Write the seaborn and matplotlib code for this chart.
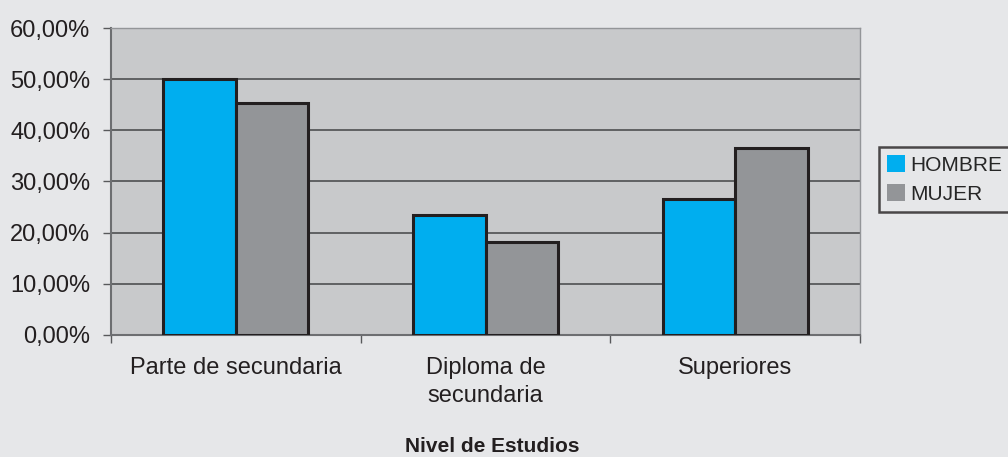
import matplotlib
matplotlib.use("Agg")
import matplotlib.pyplot as plt
import seaborn as sns
import pandas as pd
from matplotlib.ticker import FuncFormatter, MultipleLocator
from matplotlib.patches import Patch

categories = ["Parte de secundaria", "Diploma de\nsecundaria", "Superiores"]
hombre = [50.0, 23.5, 26.5]
mujer = [45.3, 18.2, 36.5]
series = ["HOMBRE", "MUJER"]
colors = ["#00AEEF", "#939598"]

df = pd.DataFrame({
    "Nivel": categories * 2,
    "Sexo": [series[0]] * 3 + [series[1]] * 3,
    "Valor": hombre + mujer,
})

sns.set_theme(style="white")
plt.rcParams["font.family"] = ["Liberation Sans", "DejaVu Sans"]

fig = plt.figure(figsize=(10.08, 4.57), dpi=100, facecolor="#E6E7E9")
ax = fig.add_axes([0.1101, 0.267, 0.7431, 0.6717])
ax.set_facecolor("#C8C9CB")

sns.barplot(data=df, x="Nivel", y="Valor", hue="Sexo", palette=colors, saturation=1,
            width=0.58, gap=0, edgecolor="#231F20", linewidth=2.2,
            ax=ax, legend=False, zorder=3)

ax.set_ylim(0, 60)
ax.set_xlim(-0.5, 2.5)
ax.yaxis.set_major_locator(MultipleLocator(10))
ax.yaxis.set_major_formatter(FuncFormatter(lambda v, p: f"{v:.2f}".replace(".", ",") + "%"))
ax.grid(axis="y", color="#58595B", linewidth=1.3, zorder=1)
ax.set_axisbelow(True)

# category boundary ticks on the x axis
ax.set_xticks([-0.5, 0.5, 1.5, 2.5], minor=True)
ax.tick_params(axis="x", which="minor", length=6, width=1, color="#58595B", direction="out", bottom=True)
ax.tick_params(axis="x", which="major", length=0, labelsize=17, labelcolor="#231F20", pad=16)
ax.tick_params(axis="y", length=6, width=1, color="#58595B", direction="out", left=True,
               labelsize=17, labelcolor="#231F20", pad=9)
for lbl in ax.get_xticklabels():
    lbl.set_linespacing(1.35)

for side in ["left", "bottom"]:
    ax.spines[side].set_color("#6D6E71")
    ax.spines[side].set_linewidth(1.5)
for side in ["top", "right"]:
    ax.spines[side].set_color("#939598")
    ax.spines[side].set_linewidth(1.0)

ax.set_ylabel("")
ax.set_xlabel("")
fig.text(0.4885, 1 - 446 / 457, "Nivel de Estudios", fontsize=15, fontweight="bold",
         color="#231F20", ha="center", va="center")

handles = [Patch(facecolor=c, edgecolor="none") for c in colors]
leg = fig.legend(handles, series, loc="center left", bbox_to_anchor=(0.872, 0.607),
                 frameon=True, fancybox=False, fontsize=15, handlelength=0.85, handleheight=0.85,
                 handletextpad=0.25, borderpad=0.4, labelspacing=0.45, borderaxespad=0)
leg.get_frame().set_edgecolor("#231F20")
leg.get_frame().set_linewidth(1.8)
leg.get_frame().set_facecolor("#E6E7E9")

fig.savefig("out.png", dpi=100, facecolor=fig.get_facecolor())
